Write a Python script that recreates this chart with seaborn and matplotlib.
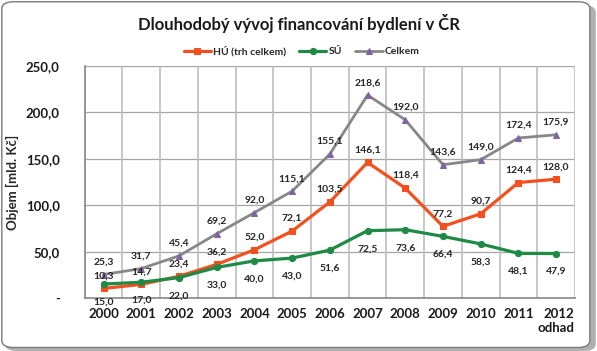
import pandas as pd
import seaborn as sns
import matplotlib.pyplot as plt
from matplotlib.patches import FancyBboxPatch
from matplotlib.ticker import FuncFormatter

# --- data ---
years = ['2000', '2001', '2002', '2003', '2004', '2005', '2006',
         '2007', '2008', '2009', '2010', '2011', '2012\nodhad']
hu = [10.3, 14.7, 23.4, 36.2, 52.0, 72.1, 103.5, 146.1, 118.4, 77.2, 90.7, 124.4, 128.0]
su = [15.0, 17.0, 22.0, 33.0, 40.0, 43.0, 51.6, 72.5, 73.6, 66.4, 58.3, 48.1, 47.9]
celkem = [25.3, 31.7, 45.4, 69.2, 92.0, 115.1, 155.1, 218.6, 192.0, 143.6, 149.0, 172.4, 175.9]

series_names = ['HÚ (trh celkem)', 'SÚ', 'Celkem']
series_vals = [hu, su, celkem]

rows = []
for name, vals in zip(series_names, series_vals):
    for i, v in enumerate(vals):
        rows.append({'pos': i, 'Rok': years[i], 'Objem': v, 'Řada': name})
df = pd.DataFrame(rows)

sns.set_theme(style='white')
plt.rcParams['font.family'] = ['Lato', 'DejaVu Sans']

colors = {'HÚ (trh celkem)': '#F2501E', 'SÚ': '#1E8A45', 'Celkem': '#878787'}
marker_col = {'HÚ (trh celkem)': '#F2501E', 'SÚ': '#1E8A45', 'Celkem': '#8064A2'}
markers = {'HÚ (trh celkem)': 's', 'SÚ': 'o', 'Celkem': '^'}

fig = plt.figure(figsize=(5.97, 3.51), dpi=100)

# rounded frame with shadow
shadow = FancyBboxPatch((0.008, 0.0), 0.99, 0.985, boxstyle='round,pad=0,rounding_size=0.02',
                        transform=fig.transFigure, facecolor='#b0b0b0', edgecolor='none', zorder=-2)
frame = FancyBboxPatch((0.003, 0.01), 0.985, 0.985, boxstyle='round,pad=0,rounding_size=0.02',
                       transform=fig.transFigure, facecolor='white', edgecolor='#7a7a7a',
                       linewidth=1.0, zorder=-1)
fig.patches.extend([shadow, frame])

ax = fig.add_axes([0.142, 0.151, 0.821, 0.661])
ax.set_facecolor('none')

for name in series_names:
    sub = df[df['Řada'] == name]
    sns.lineplot(data=sub, x='pos', y='Objem', ax=ax, color=colors[name],
                 marker=markers[name], markersize=7 if name != 'Celkem' else 6.5,
                 markerfacecolor=marker_col[name], markeredgecolor=marker_col[name],
                 linewidth=2.3 if name != 'Celkem' else 2.0, label=name, zorder=3)

# value labels
for name in series_names:
    sub = df[df['Řada'] == name]
    dy = -13 if name == 'SÚ' else 9
    for _, r in sub.iterrows():
        ax.annotate(f"{r['Objem']:.1f}".replace('.', ','), (r['pos'], r['Objem']),
                    xytext=(0, dy), textcoords='offset points', ha='center', va='center',
                    fontsize=7.5, fontweight='bold', color='#262626', zorder=5)

ax.set_xlim(-0.5, len(years) - 0.5)
ax.set_ylim(0, 250)
ax.set_yticks(range(0, 251, 50))
ax.yaxis.set_major_formatter(FuncFormatter(lambda v, p: '-' if v == 0 else f'{v:.1f}'.replace('.', ',')))
ax.set_xticks(range(len(years)))
ax.set_xticklabels(years)
ax.set_xticks([i - 0.5 for i in range(len(years) + 1)], minor=True)

ax.grid(False)
for y in range(50, 251, 50):
    ax.axhline(y, color='#a6a6a6', linewidth=0.9, zorder=1)
for xb in [i - 0.5 for i in range(len(years) + 1)]:
    ax.axvline(xb, color='#bdbdbd', linewidth=1.2, zorder=1)

for s in ['top', 'right']:
    ax.spines[s].set_visible(False)
ax.spines['left'].set_color('#8c8c8c')
ax.spines['bottom'].set_color('#8c8c8c')
ax.tick_params(axis='x', which='major', length=0, labelsize=9.5, pad=7, colors='#1a1a1a')
ax.tick_params(axis='x', which='minor', length=4, color='#8c8c8c', direction='out')
ax.tick_params(axis='y', length=3, labelsize=9.5, pad=15, colors='#8c8c8c', labelcolor='#1a1a1a')
for t in ax.get_xticklabels():
    t.set_fontweight('bold')
    t.set_multialignment('right')
for t in ax.get_yticklabels():
    t.set_fontweight('bold')

ax.set_xlabel('')
ax.set_ylabel('Objem [mld. Kč]', fontsize=9.5, fontweight='bold', labelpad=5)

ax.legend().remove()
handles, labels = ax.get_legend_handles_labels()
for h in handles:
    h.set_markersize(4.5)
leg = fig.legend(handles, labels, loc='center', bbox_to_anchor=(0.505, 0.855), ncol=3, frameon=False,
                 fontsize=7.5, handlelength=2.6, columnspacing=1.3, handletextpad=0.2)
for t in leg.get_texts():
    t.set_fontweight('bold')

fig.text(0.5, 0.934, 'Dlouhodobý vývoj financování bydlení v ČR', ha='center', va='center',
         fontsize=12, fontweight='bold', color='#1a1a1a')

fig.savefig('out.png', dpi=100)
